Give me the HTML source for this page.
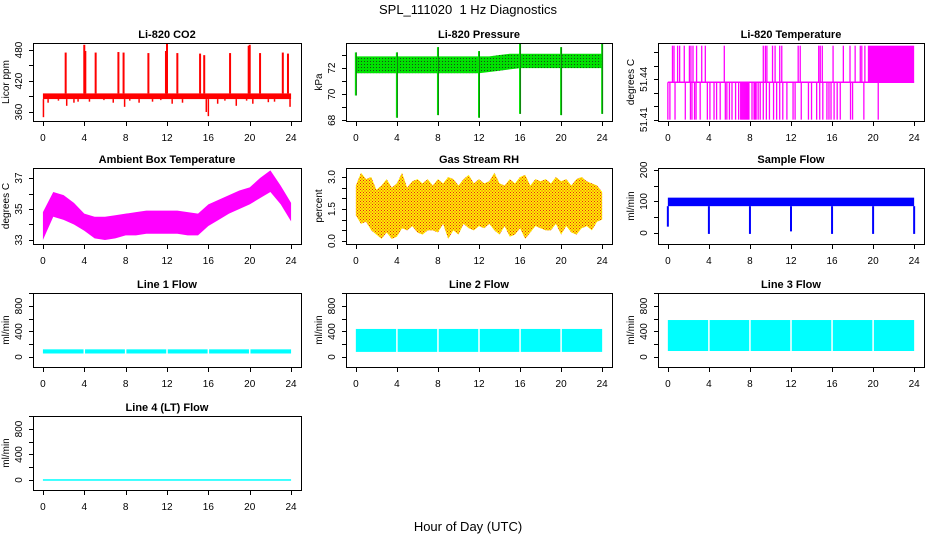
<!DOCTYPE html>
<html><head><meta charset="utf-8"><style>
html,body{margin:0;padding:0;background:#fff;}
svg{display:block;font-family:"Liberation Sans",sans-serif;}
</style></head><body>
<svg id="chart" width="936" height="540" viewBox="0 0 936 540" xmlns="http://www.w3.org/2000/svg">
<defs>
<pattern id="rhpat" width="3" height="3" patternUnits="userSpaceOnUse"><rect width="3" height="3" fill="#ffee00"/><rect x="0" y="0" width="1" height="1" fill="#e8201c"/><rect x="1.5" y="1.5" width="1" height="1" fill="#e8201c"/></pattern>
<pattern id="prpat" width="3" height="3" patternUnits="userSpaceOnUse"><rect width="3" height="3" fill="#00e000"/><rect x="1" y="1" width="1" height="1" fill="#1a4a1a"/></pattern>
</defs>
<text x="468" y="14" text-anchor="middle" font-size="13" style="white-space:pre">SPL_111020  1 Hz Diagnostics</text>
<text x="468" y="531" text-anchor="middle" font-size="13">Hour of Day (UTC)</text>
</svg>
<script>
// ---- data ----
const hourTicks = [0,4,8,12,16,20,24];
const co2SpikeHours = [2.2,4.0,4.1,5.1,7.3,7.8,10.2,11.9,12.0,13.0,15.2,15.6,18.1,19.9,20.0,21.0,23.2,23.7];
const co2SpikeVals = [475,490,478,475,476,475,474,478,492,474,473,470,474,488,490,474,475,473];
const co2DipHours = [0.05,0.5,1.5,2.3,3.0,3.4,4.5,5.9,6.8,7.9,8.4,9.3,10.6,11.4,12.5,13.5,15.8,16.0,16.9,17.6,18.7,19.7,20.3,21.8,22.4,23.9];
const co2DipVals = [350,378,382,372,378,380,380,383,378,370,382,378,380,383,376,378,360,352,376,382,372,382,376,379,380,370];
const co2BaseLow = 385, co2BaseHigh = 396;

const presUpper = [72.9,72.9,72.9,72.9,72.9,72.9,72.9,72.9,72.9,72.9,72.9,72.9,72.9,72.9,73.0,73.1,73.1,73.1,73.1,73.1,73.1,73.1,73.1,73.1,73.1];
const presLower = [71.6,71.6,71.6,71.6,71.6,71.6,71.6,71.6,71.6,71.6,71.6,71.6,71.6,71.7,71.8,71.9,72.0,72.0,72.0,72.0,72.0,72.0,72.0,72.0,72.0];
const presDipHours = [0,4,8,12,16,20,24];
const presDipVals = [69.9,68.2,68.4,68.2,68.5,68.4,68.5];
const presPeakVals = [73.2,73.2,73.6,73.3,73.9,73.6,73.9];

const tempMid = 51.4378, tempHigh = 51.465, tempLow = 51.41;
const tempLowHours = [0,0.2,0.7,1.7,2.2,2.35,2.6,2.75,3.15,3.85,4.1,4.5,4.75,5.1,5.6,5.75,6.0,6.25,6.6,6.9,7.1,7.2,7.3,7.4,7.5,7.6,7.7,7.8,7.9,8.2,8.4,8.5,8.6,8.8,9.0,9.3,9.6,9.9,10.3,10.6,10.9,11.2,11.6,12.2,12.4,13.0,13.7,14.0,14.5,14.8,15.1,15.5,15.7,15.9,16.2,16.5,16.8,17.8,18.0,19.1,20.5];
const tempHighHours = [0.45,0.6,0.95,1.15,1.6,2.1,2.25,2.45,2.8,3.3,3.65,5.5,9.3,9.5,9.65,10.2,10.45,10.9,11.1,12.7,12.9,14.7,14.85,15.05,16.1,17.1,17.75,18.25,18.75,18.9,19.2,19.55];
const tempHighBlock = [19.6,24];

const ambUpper = [34.8,36.1,35.9,35.4,34.7,34.5,34.5,34.6,34.7,34.8,34.9,34.9,34.9,34.9,34.8,34.7,35.3,35.6,35.9,36.2,36.4,37.0,37.5,36.5,35.4];
const ambLower = [33.0,34.5,34.3,34.0,33.6,33.1,33.0,33.1,33.3,33.3,33.4,33.4,33.4,33.4,33.3,33.3,33.9,34.3,34.7,35.0,35.3,35.7,36.1,35.3,34.2];

const rhUpper = [2.6,3.2,2.9,3.0,2.4,2.6,2.9,2.5,2.7,3.2,2.5,2.8,2.9,2.7,2.9,2.6,2.9,2.7,3.0,2.9,2.6,2.9,3.1,2.7,2.9,2.7,2.8,3.2,2.7,2.6,2.9,2.7,3.0,3.1,2.6,2.9,2.8,2.9,2.7,3.0,2.8,2.9,2.6,2.9,3.0,2.8,2.7,2.6,2.3];
const rhLower = [1.2,0.8,0.9,0.5,0.3,0.1,0.4,0.1,0.2,0.6,0.5,0.7,0.4,0.3,0.5,0.5,0.4,0.8,0.1,0.5,0.3,0.8,0.6,0.5,0.7,0.6,0.8,0.5,0.3,0.7,0.2,0.3,0.6,0.1,0.4,0.7,0.6,0.5,0.5,0.8,0.3,0.7,0.4,0.3,0.6,0.7,0.5,0.9,1.0];

const sampleLow = 85, sampleHigh = 112;
const sampleDipHours = [0,4,8,12,16,20,24];
const sampleDipVals = [20,-3,-3,5,-3,-3,-3];

const flowNames = ["Line 1 Flow","Line 2 Flow","Line 3 Flow","Line 4 (LT) Flow"];
const flowLower = [55,80,94,0];
const flowUpper = [120,440,580,12];
const flowGapHours = [4,8,12,16,20];

// ---- layout ----
const NS = "http://www.w3.org/2000/svg";
const svg = document.getElementById('chart');
const cols = [{L:33,R:301},{L:346,R:612},{L:658,R:924}];
const rows = [{T:43,B:121},{T:168,B:244},{T:293,B:367},{T:416,B:490}];

function mk(tag, attrs, parent){
  const e = document.createElementNS(NS, tag);
  for (const k in attrs) e.setAttribute(k, attrs[k]);
  (parent||svg).appendChild(e);
  return e;
}

function panel(ci, ri, title, ylab, ydom, yticks, ylabels, id){
  const c = cols[ci], r = rows[ri];
  const g = mk('g', {});
  
  
  const xs = h => c.L + (h + 0.96) * (c.R - c.L) / 25.92;
  const ys = v => r.B - (v - ydom[0]) / (ydom[1] - ydom[0]) * (r.B - r.T);
  const plot = mk('g', {}, g);
  
  
  // axes
  const box = mk('rect', {x:c.L+0.5, y:r.T+0.5, width:c.R-c.L, height:r.B-r.T, fill:'none', stroke:'#000', 'stroke-width':1}, g);
  
  
  const t = mk('text', {x:(c.L+c.R)/2, y:r.T-5, 'text-anchor':'middle', 'font-size':11, 'font-weight':'bold'}, g);
  t.textContent = title;
  
  
  const yl = mk('text', {transform:`translate(${c.L-24},${(r.T+r.B)/2}) rotate(-90)`, 'text-anchor':'middle', 'font-size':10}, g);
  yl.textContent = ylab;
  
  
  const xa = mk('g', {}, g);
  
  
  mk('line', {x1:xs(0), x2:xs(24), y1:r.B+0.5, y2:r.B+0.5, stroke:'#000'}, xa);
  hourTicks.forEach(h => {
    mk('line', {x1:Math.round(xs(h))+0.5, x2:Math.round(xs(h))+0.5, y1:r.B, y2:r.B+5, stroke:'#000'}, xa);
    const tl = mk('text', {x:xs(h), y:r.B+20, 'text-anchor':'middle', 'font-size':10}, xa);
    tl.textContent = h;
    
    
  });
  const ya = mk('g', {}, g);
  
  
  yticks.forEach((v, i) => {
    const y = Math.round(ys(v)) + 0.5;
    mk('line', {x1:c.L-4, x2:c.L, y1:y, y2:y, stroke:'#000'}, ya);
    if (ylabels[i] !== '') {
      const tl = mk('text', {transform:`translate(${c.L-11},${ys(v)}) rotate(-90)`, 'text-anchor':'middle', 'font-size':10}, ya);
      tl.textContent = ylabels[i];
      
      
    }
  });
  return {xs, ys, plot, r, c};
}

function vline(p, h, v1, v2, color, w){
  const l = mk('line', {x1:p.xs(h), x2:p.xs(h), y1:p.ys(v1), y2:p.ys(v2), stroke:color, 'stroke-width':w||1.5}, p.plot);
  return l;
}
function band(p, hours, lo, hi, fill){
  let pts = hours.map((h,i)=>p.xs(h)+','+p.ys(hi[i]));
  for (let i=hours.length-1;i>=0;i--) pts.push(p.xs(hours[i])+','+p.ys(lo[i]));
  return mk('polygon', {points:pts.join(' '), fill:fill}, p.plot);
}
const hourly = Array.from({length:25}, (_,i)=>i);
const halfHourly = Array.from({length:49}, (_,i)=>i/2);

// CO2
{
  const p = panel(0,0,'Li-820 CO2','Licor ppm',[342.6,493.5],[360,390,420,450,480],['360','','420','','480'],'co2');
  const b = mk('rect', {x:p.xs(0), y:p.ys(co2BaseHigh), width:p.xs(24)-p.xs(0), height:p.ys(co2BaseLow)-p.ys(co2BaseHigh), fill:'#ff0000'}, p.plot);
  
  
  co2SpikeHours.forEach((h,i)=>{ const l = vline(p,h,co2BaseHigh,co2SpikeVals[i],'#ff0000',2);
    
     });
  co2DipHours.forEach((h,i)=>{ const l = vline(p,h,co2BaseLow,co2DipVals[i],'#ff0000',1.5);
    
     });
}
// Pressure
{
  const p = panel(1,0,'Li-820 Pressure','kPa',[67.95,73.92],[68,69,70,71,72,73],['68','','70','','72',''],'pressure');
  const b = band(p, hourly, presLower, presUpper, 'url(#prpat)');
  
  
  presDipHours.forEach((h,i)=>{
    const l = vline(p,h,presDipVals[i],presPeakVals[i],'#00e000',2);
    
    
    const l2 = vline(p,h+0.05,presDipVals[i],presPeakVals[i],'#1a4a1a',0.6);
    
    
  });
}
// Temperature
{
  const p = panel(2,0,'Li-820 Temperature','degrees C',[51.409,51.467],[51.41,51.42,51.43,51.44,51.45,51.46],['51.41','','','51.44','',''],'li820-temp');
  const m = mk('line', {x1:p.xs(0), x2:p.xs(24), y1:p.ys(tempMid), y2:p.ys(tempMid), stroke:'#ff00ff', 'stroke-width':1.5}, p.plot);
  
  
  tempLowHours.forEach(h=>{ const l = vline(p,h,tempMid,tempLow,'#ff00ff',1.3);
    
     });
  tempHighHours.forEach(h=>{ const l = vline(p,h,tempMid,tempHigh,'#ff00ff',1.3);
    
     });
  const bl = mk('rect', {x:p.xs(tempHighBlock[0]), y:p.ys(tempHigh), width:p.xs(tempHighBlock[1])-p.xs(tempHighBlock[0]), height:p.ys(tempMid)-p.ys(tempHigh), fill:'#ff00ff'}, p.plot);
  
  
}
// Ambient
{
  const p = panel(0,1,'Ambient Box Temperature','degrees C',[32.74,37.65],[33,34,35,36,37],['33','','35','','37'],'ambient');
  const b = band(p, hourly, ambLower, ambUpper, '#ff00ff');
  
  
}
// RH
{
  const p = panel(1,1,'Gas Stream RH','percent',[-0.14,3.42],[0,0.5,1,1.5,2,2.5,3],['0.0','','','1.5','','','3.0'],'rh');
  const b = band(p, halfHourly, rhLower, rhUpper, 'url(#rhpat)');
  
  
}
// Sample flow
{
  const p = panel(2,1,'Sample Flow','ml/min',[-35,206],[0,50,100,150,200],['0','','100','','200'],'sample-flow');
  const b = mk('rect', {x:p.xs(0), y:p.ys(sampleHigh), width:p.xs(24)-p.xs(0), height:p.ys(sampleLow)-p.ys(sampleHigh), fill:'#0000ff'}, p.plot);
  
  
  sampleDipHours.forEach((h,i)=>{ const l = vline(p,h,sampleLow,sampleDipVals[i],'#0000ff',2);
    
     });
}
// Line flows
flowNames.forEach((name, k)=>{
  const ci = k<3 ? k : 0, ri = k<3 ? 2 : 3;
  const p = panel(ci, ri, name, 'ml/min', [-157,1004], [0,200,400,600,800,1000], ['0','','400','','800',''], 'line'+(k+1)+'-flow');
  const b = mk('rect', {x:p.xs(0), y:p.ys(flowUpper[k]), width:p.xs(24)-p.xs(0), height:Math.max(1.5, p.ys(flowLower[k])-p.ys(flowUpper[k])), fill:'#00ffff'}, p.plot);
  
  
  if (k < 3) flowGapHours.forEach(h=>{
    const gp = mk('line', {x1:p.xs(h), x2:p.xs(h), y1:p.ys(flowUpper[k])-1, y2:p.ys(flowLower[k])+1, stroke:'#ffffff', 'stroke-width':1.5}, p.plot);
    
    
  });
});
</script>
</body></html>
